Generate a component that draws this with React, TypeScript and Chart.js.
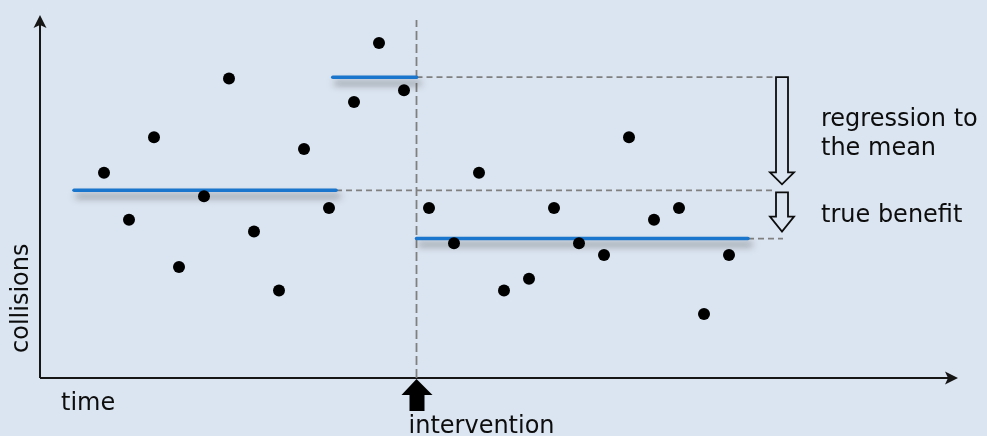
import React, { useEffect, useRef } from "react";
import { Chart, registerables } from "chart.js";

Chart.register(...registerables);

// time index of each observation
const beforeTimes = [1, 2, 3, 4, 5, 6, 7, 8, 9, 10, 11, 12, 13];
const afterTimes = [14, 15, 16, 17, 18, 19, 20, 21, 22, 23, 24, 25, 26];
// collision counts
const beforeCollisions = [18, 14, 21, 10, 16, 26, 13, 8, 20, 15, 24, 29, 25];
const afterCollisions = [15, 12, 18, 8, 9, 15, 12, 11, 21, 14, 15, 6, 11];

const interventionTime = 13.5;
const longTermMean = 16.5;
const peakMean = 26.1;
const afterMean = 12.4;
const longTermSpan = [-0.2, 10.28];
const peakSpan = [10.15, 13.5];
const afterSpan = [13.5, 26.76];
const guideEnd = 27.88;
const afterGuideEnd = 28.16;
const arrowTime = 28.12;
const verticalGuideTop = 30.96;

const xRange = [-1.56, 35.16];
const yRange = [0.57, 31.38];

const yAxisLabel = "collisions";
const xAxisLabel = "time";
const interventionLabel = "intervention";
const rtmLabel = ["regression to", "the mean"];
const benefitLabel = "true benefit";

const BG = "#dbe5f1";
const BLUE = "#1a75cc";
const DASH = "#808080";
const INK = "#0d0d0d";
const FONT = "24px 'DejaVu Sans', Verdana, sans-serif";

const decorPlugin = {
  id: "decor",
  beforeDatasetsDraw(chart: any) {
    const ctx = chart.ctx;
    const { left, right, top, bottom } = chart.chartArea;
    ctx.save();
    ctx.strokeStyle = "#161616";
    ctx.fillStyle = "#161616";
    ctx.lineWidth = 2;
    // y axis
    ctx.beginPath();
    ctx.moveTo(left, bottom);
    ctx.lineTo(left, top + 8);
    ctx.stroke();
    ctx.beginPath();
    ctx.moveTo(left, top);
    ctx.lineTo(left + 6.5, top + 13);
    ctx.lineTo(left, top + 10);
    ctx.lineTo(left - 6.5, top + 13);
    ctx.closePath();
    ctx.fill();
    // x axis
    ctx.beginPath();
    ctx.moveTo(left, bottom);
    ctx.lineTo(right - 8, bottom);
    ctx.stroke();
    ctx.beginPath();
    ctx.moveTo(right, bottom);
    ctx.lineTo(right - 13, bottom - 6.5);
    ctx.lineTo(right - 10, bottom);
    ctx.lineTo(right - 13, bottom + 6.5);
    ctx.closePath();
    ctx.fill();
    ctx.restore();
  },
  beforeDatasetDraw(chart: any, args: any) {
    const ds = chart.data.datasets[args.index];
    chart.ctx.save();
    if (ds.shadow) {
      chart.ctx.shadowColor = "rgba(30,30,30,0.5)";
      chart.ctx.shadowBlur = 7;
      chart.ctx.shadowOffsetY = 6;
      chart.ctx.shadowOffsetX = 3;
    }
  },
  afterDatasetDraw(chart: any) {
    chart.ctx.restore();
  },
  afterDatasetsDraw(chart: any) {
    const ctx = chart.ctx;
    const xs = chart.scales.x;
    const ys = chart.scales.y;
    const { left, bottom } = chart.chartArea;
    ctx.save();

    // hollow arrows
    const cx = xs.getPixelForValue(arrowTime);
    const hollow = (y0: number, y1: number, headLen: number) => {
      ctx.beginPath();
      ctx.moveTo(cx - 6, y0);
      ctx.lineTo(cx + 6, y0);
      ctx.lineTo(cx + 6, y1 - headLen);
      ctx.lineTo(cx + 12, y1 - headLen);
      ctx.lineTo(cx, y1);
      ctx.lineTo(cx - 12, y1 - headLen);
      ctx.lineTo(cx - 6, y1 - headLen);
      ctx.closePath();
      ctx.fillStyle = BG;
      ctx.fill();
      ctx.strokeStyle = INK;
      ctx.lineWidth = 1.8;
      ctx.stroke();
    };
    hollow(ys.getPixelForValue(peakMean), ys.getPixelForValue(longTermMean) - 6, 12);
    hollow(ys.getPixelForValue(longTermMean) + 2, ys.getPixelForValue(afterMean) - 7, 15);

    // intervention marker arrow
    const ix = xs.getPixelForValue(interventionTime);
    const ty = bottom + 1;
    ctx.fillStyle = "#000";
    ctx.beginPath();
    ctx.moveTo(ix, ty);
    ctx.lineTo(ix + 16, ty + 16);
    ctx.lineTo(ix + 8, ty + 16);
    ctx.lineTo(ix + 8, ty + 32);
    ctx.lineTo(ix - 7, ty + 32);
    ctx.lineTo(ix - 7, ty + 16);
    ctx.lineTo(ix - 15, ty + 16);
    ctx.closePath();
    ctx.fill();

    // texts
    ctx.fillStyle = INK;
    ctx.font = FONT;
    ctx.textAlign = "left";
    ctx.textBaseline = "alphabetic";
    ctx.fillText(rtmLabel[0], 821, 126);
    ctx.fillText(rtmLabel[1], 821, 155);
    ctx.fillText(benefitLabel, 821, 222);
    ctx.fillText(xAxisLabel, left + 21, bottom + 32);
    ctx.fillText(interventionLabel, ix - 8, bottom + 55);

    ctx.save();
    ctx.translate(left - 12, bottom - 25);
    ctx.rotate(-Math.PI / 2);
    ctx.fillText(yAxisLabel, 0, 0);
    ctx.restore();

    ctx.restore();
  },
};

export default function App() {
  const ref = useRef<HTMLCanvasElement>(null);

  useEffect(() => {
    const canvas = ref.current;
    if (!canvas) return;
    const points = [
      ...beforeTimes.map((t, i) => ({ x: t, y: beforeCollisions[i] })),
      ...afterTimes.map((t, i) => ({ x: t, y: afterCollisions[i] })),
    ];
    const seg = (span: number[], y: number) => [
      { x: span[0], y },
      { x: span[1], y },
    ];
    const dashBase = {
      type: "line" as const,
      borderColor: DASH,
      borderWidth: 1.8,
      borderDash: [6, 4],
      pointRadius: 0,
      fill: false,
      order: 3,
      clip: false as any,
    };
    const blueBase = {
      type: "line" as const,
      borderColor: BLUE,
      borderWidth: 3.5,
      borderCapStyle: "round",
      pointRadius: 0,
      fill: false,
      order: 2,
      shadow: true,
      clip: false as any,
    };
    const chart = new Chart(canvas, {
      type: "scatter",
      data: {
        datasets: [
          {
            type: "scatter",
            data: points,
            backgroundColor: "#000",
            borderColor: "#000",
            borderWidth: 0,
            pointRadius: 6,
            pointHoverRadius: 6,
            order: 0,
          } as any,
          { ...blueBase, data: seg(longTermSpan, longTermMean) } as any,
          { ...blueBase, data: seg(peakSpan, peakMean) } as any,
          { ...blueBase, data: seg(afterSpan, afterMean) } as any,
          {
            ...dashBase,
            borderDash: [9, 4],
            data: [
              { x: interventionTime, y: yRange[0] },
              { x: interventionTime, y: verticalGuideTop },
            ],
          } as any,
          { ...dashBase, data: [{ x: interventionTime, y: peakMean }, { x: guideEnd, y: peakMean }] } as any,
          { ...dashBase, data: [{ x: longTermSpan[1], y: longTermMean }, { x: guideEnd, y: longTermMean }] } as any,
          { ...dashBase, data: [{ x: afterSpan[1], y: afterMean }, { x: afterGuideEnd, y: afterMean }] } as any,
        ],
      },
      options: {
        responsive: false,
        animation: false,
        events: [],
        layout: { padding: { left: 40, top: 15, right: 29, bottom: 58 } },
        plugins: { legend: { display: false }, tooltip: { enabled: false } },
        scales: {
          x: { type: "linear", min: xRange[0], max: xRange[1], display: false },
          y: { type: "linear", min: yRange[0], max: yRange[1], display: false },
        },
      },
      plugins: [decorPlugin],
    });
    return () => chart.destroy();
  }, []);

  return (
    <div
      style={{
        position: "fixed",
        left: 0,
        top: 0,
        width: 987,
        height: 436,
        background: BG,
        overflow: "hidden",
      }}
    >
      <canvas ref={ref} width={987} height={436} style={{ display: "block" }} />
    </div>
  );
}
